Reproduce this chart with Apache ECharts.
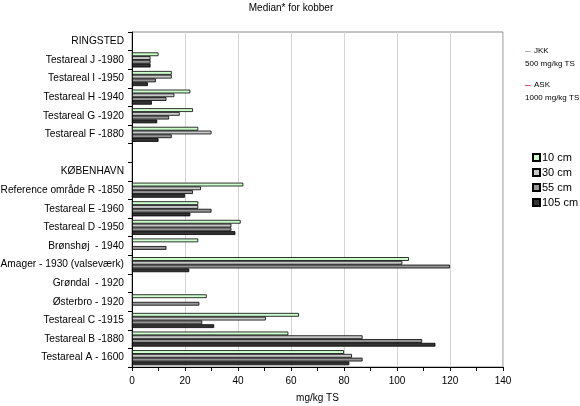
<!DOCTYPE html>
<html lang="da">

<head>
    <meta charset="UTF-8">
    <script src="https://cdn.jsdelivr.net/npm/echarts@6/dist/echarts.min.js"></script>
    <title>Median* for kobber</title>
    <style>
        html, body { margin: 0; padding: 0; background: #fff; }
    </style>
</head>

<body>
    <div id="main" style="width: 580px;height:406px;"></div>
    <script>
        // kategorier, oppefra og ned
        var categories = [
            'RINGSTED', 'Testareal J -1980', 'Testareal I -1950', 'Testareal H -1940',
            'Testareal G -1920', 'Testareal F -1880', '', 'KØBENHAVN',
            'Reference område R -1850', 'Testareal E -1960', 'Testareal D -1950',
            'Brønshøj  - 1940', 'Amager - 1930 (valseværk)', 'Grøndal  - 1920',
            'Østerbro - 1920', 'Testareal C -1915', 'Testareal B -1880', 'Testareal A - 1600'
        ];
        var seriesNames = ['10 cm', '30 cm', '55 cm', '105 cm'];
        // median kobber, mg/kg TS
        var cm10  = [null, 10, 15, 22, 23, 25, null, null, 42, 25, 41, 25, 104.5, null, 28.2, 63, 59, 80];
        var cm30  = [null, 7, 15, 16, 18, 30, null, null, 26, 25, 37.5, null, 102, null, null, 50.5, 87, 83];
        var cm55  = [null, 7, 9, 13, 14, 15, null, null, 23, 30, 37.5, 13, 120, null, 25.4, 26.5, 109.5, 87];
        var cm105 = [null, 7, 6, 7.5, 9.5, 10, null, null, 20, 22, 39, null, 21.6, null, null, 31, 114.5, 82];
        var xTicks = [0, 20, 40, 60, 80, 100, 120, 140];

        var colors = ['#ccffcc', '#c8c8c8', '#969696', '#333333'];
        var values = [cm10, cm30, cm55, cm105];

        var series = seriesNames.map(function (name, i) {
            return {
                name: name,
                type: 'bar',
                data: values[i],
                barGap: '0%',
                barCategoryGap: '19%',
                itemStyle: { color: colors[i], borderColor: '#000', borderWidth: 0.8 },
                emphasis: { disabled: true }
            };
        });

        var myChart = echarts.init(document.getElementById('main'));
        var option = {
            animation: false,
            textStyle: { fontFamily: 'Liberation Sans, Arial, sans-serif' },
            title: {
                text: 'Median* for kobber',
                left: 286,
                top: -2,
                textAlign: 'center',
                textStyle: { fontSize: 10, fontWeight: 'normal', color: '#000' }
            },
            legend: {
                data: seriesNames,
                orient: 'vertical',
                left: 527,
                top: 147,
                icon: 'rect',
                itemWidth: 7,
                itemHeight: 7,
                itemGap: 4,
                textStyle: { fontSize: 11, color: '#000', padding: [0, 0, 0, -3] }
            },
            grid: {
                left: 132,
                right: 77,
                top: 32,
                bottom: 39,
                containLabel: false,
                outerBoundsMode: 'none',
                show: true,
                borderColor: '#888',
                borderWidth: 1
            },
            xAxis: {
                type: 'value',
                min: xTicks[0],
                max: xTicks[xTicks.length - 1],
                interval: 20,
                name: 'mg/kg TS',
                nameLocation: 'middle',
                nameGap: 26,
                nameTextStyle: { fontSize: 10, color: '#000' },
                axisLine: { show: true, lineStyle: { color: '#000' } },
                axisTick: { show: true, length: 4, lineStyle: { color: '#000' } },
                minorTick: { show: true, splitNumber: 2, length: 4, lineStyle: { color: '#000' } },
                axisLabel: { fontSize: 10, color: '#000', margin: 9 },
                splitLine: { show: true, lineStyle: { color: '#d4d4d4' } }
            },
            yAxis: {
                type: 'category',
                data: categories,
                inverse: true,
                axisLine: { show: true, lineStyle: { color: '#000' } },
                axisTick: { show: true, length: 4, lineStyle: { color: '#000' } },
                axisLabel: { fontSize: 10.2, color: '#000', margin: 8, padding: [3, 0, 0, 0] }
            },
            graphic: [
                { type: 'text', left: 525, top: 46, style: { text: '–', fontSize: 10, fill: '#7f9f7f' } },
                { type: 'text', left: 534, top: 47, style: { text: 'JKK', fontSize: 8, fill: '#000' } },
                { type: 'text', left: 525, top: 60, style: { text: '500 mg/kg TS', fontSize: 8, fill: '#000' } },
                { type: 'text', left: 525, top: 80, style: { text: '–', fontSize: 10, fill: '#e02020' } },
                { type: 'text', left: 534, top: 81, style: { text: 'ASK', fontSize: 8, fill: '#000' } },
                { type: 'text', left: 525, top: 94, style: { text: '1000 mg/kg TS', fontSize: 8, fill: '#000' } }
            ],
            series: series
        };
        myChart.setOption(option);
    </script>
</body>

</html>
